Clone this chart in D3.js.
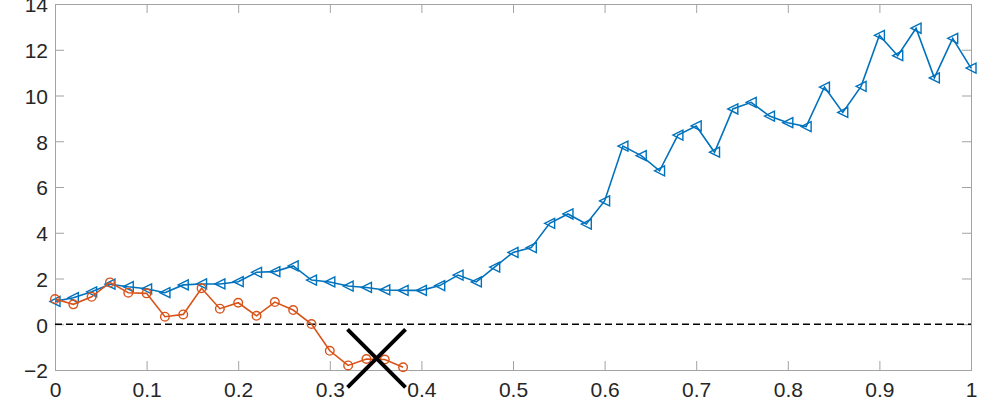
<!DOCTYPE html>
<html>
<head>
<meta charset="utf-8">
<script src="https://cdn.jsdelivr.net/npm/d3@7"></script>
<style>
  body { margin: 0; background: #fff; }
  svg text { font-family: "Liberation Sans", Arial, sans-serif; }
</style>
</head>
<body>
<div id="chart"></div>
<script>
// x positions and series values
const xBlue = d3.range(51).map(i => +(i * 0.02).toFixed(2))
const blueValues = [
  1.00, 1.16, 1.42, 1.75, 1.64, 1.55, 1.38, 1.72, 1.76, 1.76,
  1.86, 2.27, 2.30, 2.55, 1.93, 1.85, 1.67, 1.61, 1.50, 1.48,
  1.48, 1.69, 2.15, 1.85, 2.50, 3.14, 3.35, 4.41, 4.82, 4.38,
  5.39, 7.79, 7.37, 6.71, 8.27, 8.67, 7.52, 9.41, 9.70, 9.10,
  8.81, 8.64, 10.37, 9.26, 10.40, 12.63, 11.74, 12.94, 10.77, 12.50,
  11.20
]
const xOrange = d3.range(20).map(i => +(i * 0.02).toFixed(2))
const orangeValues = [
  1.10, 0.87, 1.20, 1.83, 1.38, 1.35, 0.33, 0.43, 1.57, 0.68,
  0.94, 0.37, 0.97, 0.62, 0.01, -1.16, -1.80, -1.52, -1.54, -1.88
]
const crossPoint = { x: 0.351, y: -1.49 }
const xTicks = [0, 0.1, 0.2, 0.3, 0.4, 0.5, 0.6, 0.7, 0.8, 0.9, 1]
const yTicks = [-2, 0, 2, 4, 6, 8, 10, 12, 14]

const width = 1000
const height = 400
const margin = { left: 55, right: 29, top: 4, bottom: 30 }
const innerW = width - margin.left - margin.right
const innerH = height - margin.top - margin.bottom

const blue = '#0072BD'
const orange = '#D95319'
const axisColor = '#a3a3a3'
const textColor = '#262626'

const svg = d3.select('#chart').append('svg')
  .attr('width', width)
  .attr('height', height)

const g = svg.append('g')
  .attr('transform', `translate(${margin.left}, ${margin.top})`)

const x = d3.scaleLinear().domain([0, 1]).range([0, innerW])
const y = d3.scaleLinear().domain([-2, 14]).range([innerH, 0])

// box axes with inward ticks
const fmtX = d => d === 0 ? '0' : d === 1 ? '1' : d3.format('.1f')(d)

g.append('g')
  .attr('transform', `translate(0, ${innerH})`)
  .call(d3.axisBottom(x).tickValues(xTicks).tickSize(-9).tickPadding(12).tickFormat(fmtX))
  .call(sel => sel.selectAll('text').attr('dy', '0.71em'))

g.append('g')
  .call(d3.axisTop(x).tickValues(xTicks).tickSize(-9).tickFormat(''))

g.append('g')
  .call(d3.axisLeft(y).tickValues(yTicks).tickSize(-9).tickPadding(7).tickFormat(d3.format('d')))
  .call(sel => sel.selectAll('text').attr('dy', '0.38em'))

g.append('g')
  .attr('transform', `translate(${innerW}, 0)`)
  .call(d3.axisRight(y).tickValues(yTicks).tickSize(-9).tickFormat(''))

g.selectAll('.domain, .tick line')
  .attr('stroke', axisColor)
  .attr('stroke-width', 1)
g.selectAll('.tick text')
  .attr('fill', textColor)
  .style('font-size', '21px')

// zero reference line
g.append('line')
  .attr('x1', x(0)).attr('x2', x(1))
  .attr('y1', y(0)).attr('y2', y(0))
  .attr('stroke', '#000')
  .attr('stroke-width', 1.6)
  .attr('stroke-dasharray', '7,4')

const line = d3.line()
  .x(d => x(d[0]))
  .y(d => y(d[1]))

const blueData = xBlue.map((v, i) => [v, blueValues[i]])
const orangeData = xOrange.map((v, i) => [v, orangeValues[i]])

g.append('path')
  .datum(blueData)
  .attr('d', line)
  .attr('fill', 'none')
  .attr('stroke', blue)
  .attr('stroke-width', 1.6)

// left-pointing triangle markers
g.append('g').selectAll('path')
  .data(blueData)
  .enter()
  .append('path')
  .attr('d', d => {
    const cx = x(d[0]), cy = y(d[1]), s = 5
    return `M${cx - s},${cy} L${cx + s},${cy - s} L${cx + s},${cy + s} Z`
  })
  .attr('fill', 'none')
  .attr('stroke', blue)
  .attr('stroke-width', 1.4)

g.append('path')
  .datum(orangeData)
  .attr('d', line)
  .attr('fill', 'none')
  .attr('stroke', orange)
  .attr('stroke-width', 1.6)

g.append('g').selectAll('circle')
  .data(orangeData)
  .enter()
  .append('circle')
  .attr('cx', d => x(d[0]))
  .attr('cy', d => y(d[1]))
  .attr('r', 4.3)
  .attr('fill', 'none')
  .attr('stroke', orange)
  .attr('stroke-width', 1.4)

// big black cross marker
const cx = x(crossPoint.x), cy = y(crossPoint.y), h = 29
g.append('path')
  .attr('d', `M${cx - h},${cy - h} L${cx + h},${cy + h} M${cx + h},${cy - h} L${cx - h},${cy + h}`)
  .attr('stroke', '#000')
  .attr('stroke-width', 4)
  .attr('fill', 'none')
</script>
</body>
</html>
